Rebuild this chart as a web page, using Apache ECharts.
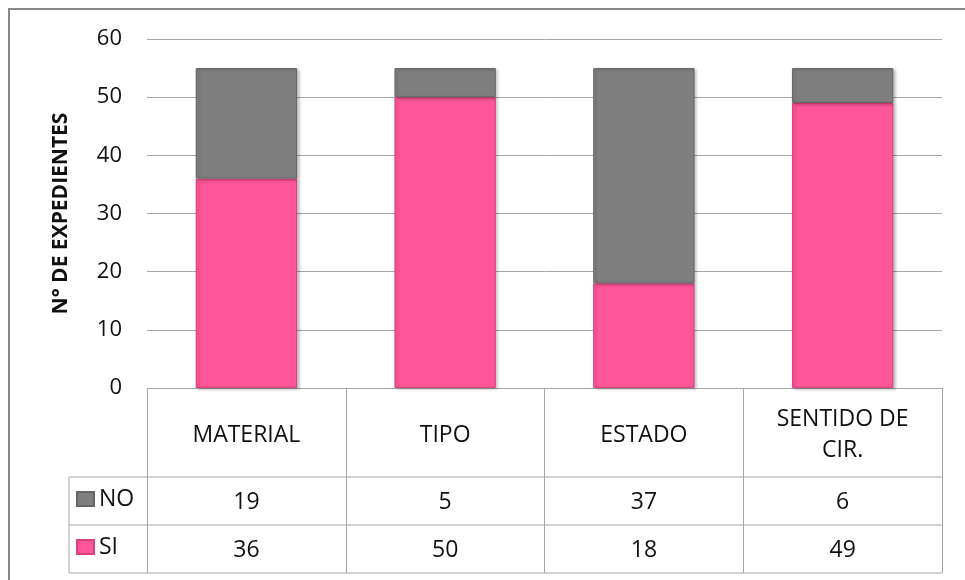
<!DOCTYPE html>
<html><head><meta charset="utf-8">
<script src="https://cdn.jsdelivr.net/npm/echarts@6/dist/echarts.min.js"></script>
<style>html,body{margin:0;padding:0;background:#fff}#c{width:965px;height:580px}</style>
</head><body><div id="c"></div>
<script>
const categories = ['MATERIAL', 'TIPO', 'ESTADO', 'SENTIDO DE\nCIR.'];
const noValues = [19, 5, 37, 6];
const siValues = [36, 50, 18, 49];
const seriesNames = ['NO', 'SI'];
const yTitle = 'N° DE EXPEDIENTES';
const yMin = 0, yMax = 60, yStep = 10;

const FONT = '"Open Sans", sans-serif';
const TXT = '#111';
const LINE = '#a6a6a6';
const W = 965, H = 580;
const gridL = 147, gridR = 23, gridT = 39, gridB = 192;
const plotRight = W - gridR;
const rowY = [477, 525, 573];
const legendX = 69;
const TS = 23;

const chart = echarts.init(document.getElementById('c'), null, {renderer: 'canvas'});
const option = {
  animation: false,
  backgroundColor: '#fff',
  textStyle: {fontFamily: FONT},
  grid: {left: gridL, right: gridR, top: gridT, bottom: gridB},
  legend: {
    orient: 'vertical', left: 76, top: 487, itemGap: 24, padding: 0, itemTextGap: 4,
    data: seriesNames, icon: 'rect', itemWidth: 17, itemHeight: 14,
    selectedMode: false,
    textStyle: {fontSize: TS, color: TXT, lineHeight: 24, fontFamily: FONT}
  },
  xAxis: [
    {
      type: 'category', data: categories,
      axisLine: {show: true, lineStyle: {color: LINE, width: 1}},
      axisTick: {show: true, length: 185, lineStyle: {color: LINE, width: 1}},
      axisLabel: {margin: 47, verticalAlign: 'middle', fontSize: TS, color: TXT, lineHeight: 31, interval: 0, fontFamily: FONT}
    },
    {
      type: 'category', data: noValues.map(String), position: 'bottom',
      axisLine: {show: false}, axisTick: {show: false},
      axisLabel: {margin: 114, verticalAlign: 'middle', fontSize: TS, color: TXT, interval: 0, fontFamily: FONT}
    },
    {
      type: 'category', data: siValues.map(String), position: 'bottom',
      axisLine: {show: false}, axisTick: {show: false},
      axisLabel: {margin: 162, verticalAlign: 'middle', fontSize: TS, color: TXT, interval: 0, fontFamily: FONT}
    }
  ],
  yAxis: {
    type: 'value', min: yMin, max: yMax, interval: yStep,
    name: yTitle, nameLocation: 'middle', nameRotate: 90, nameGap: 75,
    nameTextStyle: {fontSize: 21, fontWeight: 'bold', color: TXT, fontFamily: FONT},
    axisLine: {show: false}, axisTick: {show: false},
    axisLabel: {fontSize: 22, color: TXT, margin: 25, fontFamily: FONT},
    splitLine: {lineStyle: {color: LINE, width: 1}}
  },
  series: [
    {
      name: 'SI', type: 'bar', stack: 'total', data: siValues, barWidth: '51%',
      itemStyle: {color: '#ff5599', borderColor: '#d9407c', borderWidth: 1,
        shadowColor: 'rgba(0,0,0,0.25)', shadowBlur: 3, shadowOffsetX: 2, shadowOffsetY: 1}
    },
    {
      name: 'NO', type: 'bar', stack: 'total', data: noValues, barWidth: '51%',
      itemStyle: {color: '#7f7f7f', borderColor: '#666666', borderWidth: 1,
        shadowColor: 'rgba(0,0,0,0.25)', shadowBlur: 3, shadowOffsetX: 2, shadowOffsetY: 1}
    }
  ],
  graphic: [
    {type: 'rect', shape: {x: 9, y: 9, width: 980, height: 600}, style: {fill: null, stroke: '#878787', lineWidth: 2}, silent: true},
    ...rowY.map(y => ({type: 'line', shape: {x1: legendX, y1: y, x2: plotRight, y2: y}, style: {stroke: LINE, lineWidth: 1}, silent: true})),
    {type: 'line', shape: {x1: legendX, y1: rowY[0], x2: legendX, y2: rowY[2]}, style: {stroke: LINE, lineWidth: 1}, silent: true}
  ]
};
chart.setOption(option);
</script></body></html>
